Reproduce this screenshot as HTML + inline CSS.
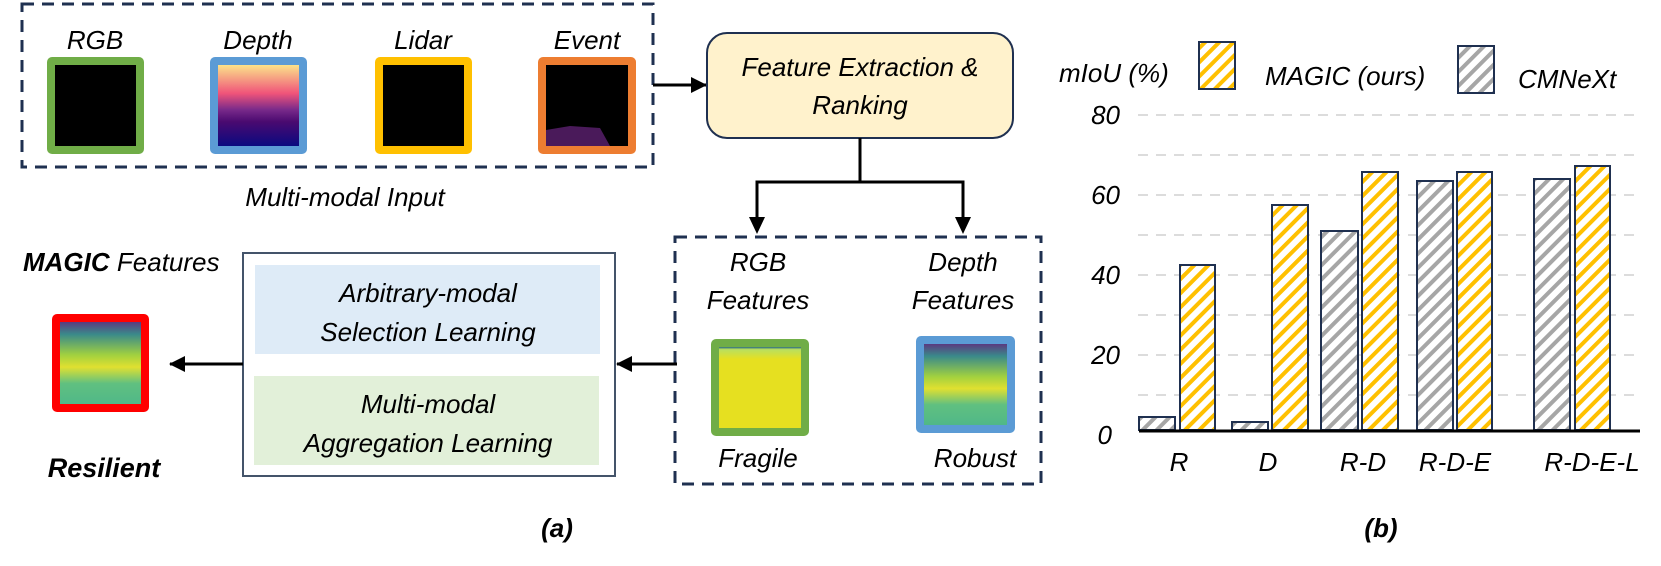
<!DOCTYPE html>
<html><head><meta charset="utf-8"><style>
html,body{margin:0;padding:0;background:#fff;}
svg{display:block;}
text{font-family:"Liberation Sans",sans-serif;font-style:italic;fill:#000;}
</style></head><body>
<svg width="1661" height="566" viewBox="0 0 1661 566" xmlns="http://www.w3.org/2000/svg">
<defs>
<pattern id="hy" patternUnits="userSpaceOnUse" width="10" height="10" patternTransform="rotate(45)">
<rect width="10" height="10" fill="#fff"/><rect width="4" height="10" fill="#ffc000"/></pattern>
<pattern id="hg" patternUnits="userSpaceOnUse" width="10" height="10" patternTransform="rotate(45)">
<rect width="10" height="10" fill="#fff"/><rect width="4" height="10" fill="#a6a6a6"/></pattern>
<linearGradient id="dep" x1="0" y1="0" x2="0" y2="1">
<stop offset="0" stop-color="#fbe38a"/><stop offset="0.35" stop-color="#f0547a"/><stop offset="0.55" stop-color="#7a2a8a"/><stop offset="0.7" stop-color="#4a0a70"/><stop offset="1" stop-color="#0a0a80"/></linearGradient>
<linearGradient id="vir" x1="0" y1="0" x2="0" y2="1">
<stop offset="0" stop-color="#5a3a80"/><stop offset="0.15" stop-color="#3a8a8a"/><stop offset="0.4" stop-color="#a0d040"/><stop offset="0.55" stop-color="#e0e030"/><stop offset="0.75" stop-color="#60c080"/><stop offset="1" stop-color="#50b888"/></linearGradient>
<linearGradient id="frg" x1="0" y1="0" x2="0" y2="1">
<stop offset="0" stop-color="#2a6a80"/><stop offset="0.03" stop-color="#b8e060"/><stop offset="0.15" stop-color="#e6e020"/><stop offset="1" stop-color="#e6e020"/></linearGradient>
<marker id="ar" markerWidth="16" markerHeight="16" refX="15" refY="8" orient="auto" markerUnits="userSpaceOnUse" viewBox="0 0 16 16">
<path d="M0,0 L16,8 L0,16 z" fill="#000"/></marker>
</defs>

<rect x="22" y="4" width="631" height="163" fill="none" stroke="#1f3050" stroke-width="3" stroke-dasharray="12,8"/>
<text x="95" y="49" font-size="26" text-anchor="middle">RGB</text>
<text x="258" y="49" font-size="26" text-anchor="middle">Depth</text>
<text x="423" y="49" font-size="26" text-anchor="middle">Lidar</text>
<text x="587" y="49" font-size="26" text-anchor="middle">Event</text>
<rect x="47" y="57" width="97" height="97" rx="5" fill="#70ad47"/><rect x="55" y="65" width="81" height="81" fill="#000"/>
<rect x="210" y="57" width="97" height="97" rx="5" fill="#5b9bd5"/><rect x="218" y="65" width="81" height="81" fill="url(#dep)"/>
<rect x="375" y="57" width="97" height="97" rx="5" fill="#ffc000"/><rect x="383" y="65" width="81" height="81" fill="#000"/>
<rect x="538" y="57" width="98" height="97" rx="5" fill="#ed7d31"/><rect x="546" y="65" width="82" height="81" fill="#000"/>
<path d="M546,130 L570,126 L600,128 L610,146 L546,146z" fill="#4a1a5a"/>
<text x="345" y="206" font-size="26" text-anchor="middle">Multi-modal Input</text>

<line x1="653" y1="85" x2="706" y2="85" stroke="#000" stroke-width="3" marker-end="url(#ar)"/>
<rect x="707" y="33" width="306" height="105" rx="20" fill="#fff2cc" stroke="#1f3050" stroke-width="2"/>
<text x="860" y="76" font-size="26" text-anchor="middle">Feature Extraction &amp;</text>
<text x="860" y="114" font-size="26" text-anchor="middle">Ranking</text>
<polyline points="860,138 860,182" stroke="#000" stroke-width="3" fill="none"/>
<polyline points="757,225 757,182 963,182 963,225" stroke="#000" stroke-width="3" fill="none"/>
<path d="M749,217 L765,217 L757,234z M955,217 L971,217 L963,234z" fill="#000"/>

<rect x="675" y="237" width="366" height="247" fill="none" stroke="#1f3050" stroke-width="3" stroke-dasharray="12,8"/>
<text x="758" y="271" font-size="26" text-anchor="middle">RGB</text>
<text x="758" y="309" font-size="26" text-anchor="middle">Features</text>
<text x="963" y="271" font-size="26" text-anchor="middle">Depth</text>
<text x="963" y="309" font-size="26" text-anchor="middle">Features</text>
<rect x="711" y="339" width="98" height="97" rx="5" fill="#70ad47"/><rect x="719" y="347" width="82" height="81" fill="url(#frg)"/>
<rect x="916" y="336" width="99" height="97" rx="5" fill="#5b9bd5"/><rect x="924" y="344" width="83" height="81" fill="url(#vir)"/>
<text x="758" y="467" font-size="26" text-anchor="middle">Fragile</text>
<text x="975" y="467" font-size="26" text-anchor="middle">Robust</text>

<line x1="677" y1="364" x2="617" y2="364" stroke="#000" stroke-width="3" marker-end="url(#ar)"/>
<rect x="243" y="253" width="372" height="223" fill="#fff" stroke="#44546a" stroke-width="2"/>
<rect x="255" y="265" width="345" height="89" fill="#deebf7"/>
<rect x="254" y="376" width="345" height="89" fill="#e2f0d9"/>
<text x="428" y="302" font-size="26" text-anchor="middle">Arbitrary-modal</text>
<text x="428" y="341" font-size="26" text-anchor="middle">Selection Learning</text>
<text x="428" y="413" font-size="26" text-anchor="middle">Multi-modal</text>
<text x="428" y="452" font-size="26" text-anchor="middle">Aggregation Learning</text>
<line x1="243" y1="364" x2="170" y2="364" stroke="#000" stroke-width="3" marker-end="url(#ar)"/>

<text x="23" y="271" font-size="26"><tspan font-weight="bold">MAGIC</tspan> Features</text>
<rect x="52" y="314" width="97" height="98" rx="5" fill="#ff0000"/><rect x="60" y="322" width="81" height="82" fill="url(#vir)"/>
<text x="104" y="477" font-size="27" font-weight="bold" text-anchor="middle">Resilient</text>
<text x="557" y="537" font-size="26" font-weight="bold" text-anchor="middle">(a)</text>

<g stroke="#dcdcdc" stroke-width="2" stroke-dasharray="10,8">
<line x1="1138" y1="115" x2="1638" y2="115"/><line x1="1138" y1="155" x2="1638" y2="155"/>
<line x1="1138" y1="195" x2="1638" y2="195"/><line x1="1138" y1="235" x2="1638" y2="235"/>
<line x1="1138" y1="275" x2="1638" y2="275"/><line x1="1138" y1="315" x2="1638" y2="315"/>
<line x1="1138" y1="355" x2="1638" y2="355"/><line x1="1138" y1="395" x2="1638" y2="395"/>
</g>
<g font-size="26" text-anchor="end">
<text x="1120" y="124">80</text><text x="1120" y="204">60</text><text x="1120" y="284">40</text>
<text x="1120" y="364">20</text><text x="1112" y="444">0</text>
</g>
<g stroke="#1f3050" stroke-width="2">
<rect x="1139" y="417" width="36" height="13" fill="url(#hg)"/>
<rect x="1180" y="265" width="35" height="165" fill="url(#hy)"/>
<rect x="1232" y="422" width="36" height="8" fill="url(#hg)"/>
<rect x="1272" y="205" width="36" height="225" fill="url(#hy)"/>
<rect x="1321" y="231" width="37" height="199" fill="url(#hg)"/>
<rect x="1362" y="172" width="36" height="258" fill="url(#hy)"/>
<rect x="1417" y="181" width="36" height="249" fill="url(#hg)"/>
<rect x="1457" y="172" width="35" height="258" fill="url(#hy)"/>
<rect x="1534" y="179" width="36" height="251" fill="url(#hg)"/>
<rect x="1575" y="166" width="35" height="264" fill="url(#hy)"/>
<rect x="1199" y="42" width="36" height="47" fill="url(#hy)"/>
<rect x="1458" y="46" width="36" height="47" fill="url(#hg)"/>
</g>
<line x1="1139" y1="431" x2="1640" y2="431" stroke="#000" stroke-width="3"/>
<text x="1059" y="82" font-size="26">mIoU (%)</text>
<text x="1265" y="85" font-size="26">MAGIC (ours)</text>
<text x="1518" y="88" font-size="26">CMNeXt</text>
<g font-size="26" text-anchor="middle">
<text x="1179" y="471">R</text><text x="1268" y="471">D</text><text x="1363" y="471">R-D</text>
<text x="1455" y="471">R-D-E</text><text x="1592" y="471">R-D-E-L</text>
</g>
<text x="1381" y="537" font-size="26" font-weight="bold" text-anchor="middle">(b)</text>
</svg>
</body></html>
